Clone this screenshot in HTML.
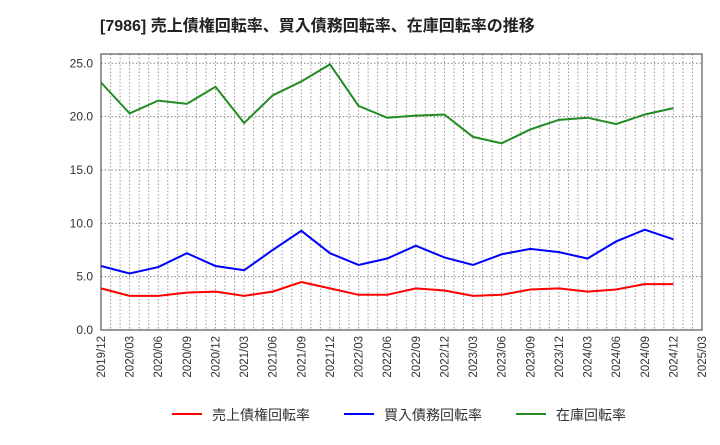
<!DOCTYPE html>
<html><head><meta charset="utf-8"><style>
body{margin:0;background:#fff;font-family:"Liberation Sans","Noto Sans CJK JP",sans-serif}
</style></head><body>
<svg id="c" width="720" height="440" xmlns="http://www.w3.org/2000/svg" font-family="Liberation Sans, Noto Sans CJK JP, sans-serif">
<text x="100" y="31" font-size="16" font-weight="bold" fill="#222">[7986]  売上債権回転率、買入債務回転率、在庫回転率の推移</text>
<g id="grid"></g><g id="axes"></g><g id="series"></g>
<g>
<line x1="172" y1="414" x2="202" y2="414" stroke="#f00" stroke-width="2"/><text x="212" y="420" font-size="14" fill="#333">売上債権回転率</text>
<line x1="344" y1="414" x2="374" y2="414" stroke="#00f" stroke-width="2"/><text x="384" y="420" font-size="14" fill="#333">買入債務回転率</text>
<line x1="516" y1="414" x2="546" y2="414" stroke="#228b22" stroke-width="2"/><text x="556" y="420" font-size="14" fill="#333">在庫回転率</text>
</g>
</svg>
<script>
const xLabels=["2019/12","2020/03","2020/06","2020/09","2020/12","2021/03","2021/06","2021/09","2021/12","2022/03","2022/06","2022/09","2022/12","2023/03","2023/06","2023/09","2023/12","2024/03","2024/06","2024/09","2024/12","2025/03"];
const yTicks=[0,5,10,15,20,25];
const inventory=[23.2,20.3,21.5,21.2,22.8,19.4,22.0,23.3,24.9,21.0,19.9,20.1,20.2,18.1,17.5,18.8,19.7,19.9,19.3,20.2,20.8];
const payables=[6.0,5.3,5.9,7.2,6.0,5.6,7.5,9.3,7.2,6.1,6.7,7.9,6.8,6.1,7.1,7.6,7.3,6.7,8.3,9.4,8.5];
const receivables=[3.9,3.2,3.2,3.5,3.6,3.2,3.6,4.5,3.9,3.3,3.3,3.9,3.7,3.2,3.3,3.8,3.9,3.6,3.8,4.3,4.3];
const L=101,R=702,T=54,B=330;
const xs=i=>L+i*(R-L)/(xLabels.length-1);
const ys=v=>B-v*(B-63.3)/25;
const NS="http://www.w3.org/2000/svg";
function mk(t,a,p){const e=document.createElementNS(NS,t);for(const k in a)e.setAttribute(k,a[k]);p.appendChild(e);return e;}
const g=document.getElementById('grid'),ax=document.getElementById('axes'),s=document.getElementById('series');
const nMonths=(xLabels.length-1)*3;
for(let m=1;m<nMonths;m++){const x=L+m*(R-L)/nMonths;mk('line',{x1:x,x2:x,y1:T,y2:B,stroke:'#999','stroke-dasharray':'1.5,2','stroke-width':1},g);}
yTicks.forEach(v=>{if(v>0)mk('line',{x1:L,x2:R,y1:ys(v),y2:ys(v),stroke:'#888','stroke-dasharray':'1.5,2','stroke-width':1},g);
const t=mk('text',{x:L-8,y:ys(v)+4,'text-anchor':'end','font-size':12,fill:'#333'},ax);t.textContent=v.toFixed(1);

});
xLabels.forEach((l,i)=>{const x=xs(i);const t=mk('text',{x:x+4,y:B+6,'text-anchor':'end','font-size':11.5,fill:'#333',transform:`rotate(-90 ${x+4} ${B+6})`},ax);t.textContent=l;

});
const fr=mk('rect',{x:L,y:T,width:R-L,height:B-T,fill:'none',stroke:'#333','stroke-width':1},ax);


[[inventory,'#228b22','inventory-line'],[payables,'#00f','payables-line'],[receivables,'#f00','receivables-line']].forEach(([d,c,n])=>{
const p=mk('polyline',{points:d.map((v,i)=>xs(i)+','+ys(v)).join(' '),fill:'none',stroke:c,'stroke-width':2},s);

});
</script>
</body></html>
